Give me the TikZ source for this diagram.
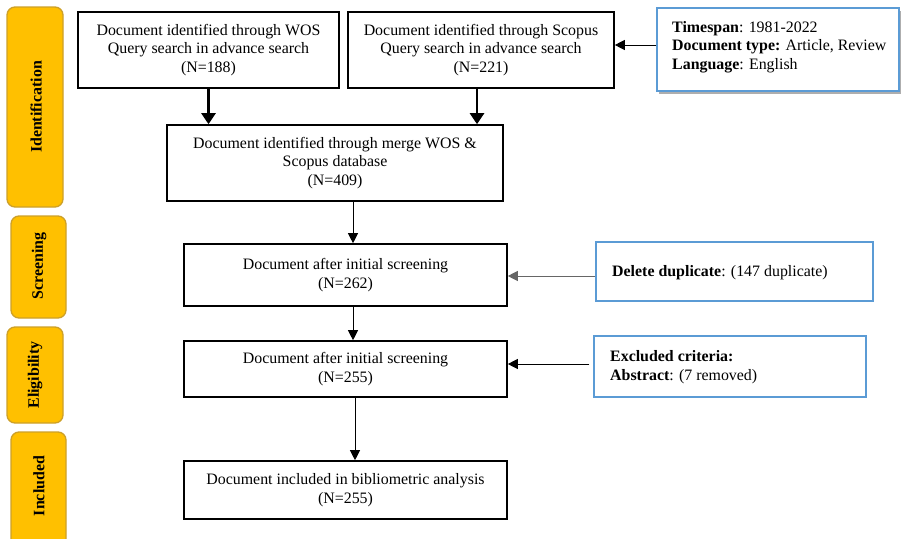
\documentclass[tikz,border=0pt]{standalone}
\usepackage{fontspec}
\setmainfont{Liberation Serif}
\usetikzlibrary{arrows.meta,shadows}
\definecolor{phase}{RGB}{255,192,0}
\definecolor{phaseline}{RGB}{205,160,40}
\definecolor{infoblue}{RGB}{91,155,213}
\tikzset{
  txt/.style={font=\fontsize{15.9}{18.5}\selectfont},
  phasebox/.style={draw=phaseline, line width=1.3pt, fill=phase, rounded corners=8pt},
  phaselabel/.style={txt, font=\fontsize{15.9}{18.5}\selectfont\bfseries, rotate=90},
  docbox/.style={txt, draw=black, line width=1.6pt, align=center, inner sep=0pt},
  infobox/.style={draw=infoblue, line width=1.4pt, fill=white, inner sep=0pt},
  infotext/.style={txt, align=left, anchor=west, inner sep=0pt},
  thinarrow/.style={line width=0.9pt, -{Triangle[length=10pt,width=10pt]}},
  thickarrow/.style={line width=2.6pt, -{Triangle[length=11pt,width=14pt]}}
}
\begin{document}
\begin{tikzpicture}[x=1pt,y=-1pt]
\useasboundingbox[fill=white] (0,0) rectangle (904,538);

% phase boxes
\draw[phasebox] (7,7) rectangle (63,207);
\draw[phasebox] (11,216) rectangle (66,318);
\draw[phasebox] (7,327) rectangle (63,423);
\draw[phasebox] (11,432) rectangle (66,560);
\node[phaselabel] (pid) at (36,107) {Identification};
\node[phaselabel] (psc) at (39,266) {Screening};
\node[phaselabel] (pel) at (35,375) {Eligibility};
\node[phaselabel] (pin) at (39,486) {Included};

% document boxes
\node[docbox, minimum width=261pt, minimum height=76pt] (wos) at (208.5,50)
  {Document identified through WOS\\Query search in advance search\\(N=188)};
\node[docbox, minimum width=266pt, minimum height=76pt] (sco) at (481,50)
  {Document identified through Scopus\\Query search in advance search\\(N=221)};
\node[docbox, minimum width=336pt, minimum height=76pt] (mer) at (335,163)
  {Document identified through merge WOS \&\\Scopus database\\(N=409)};
\node[docbox, minimum width=323pt, minimum height=62pt] (scr) at (345.5,275)
  {Document after initial screening\\(N=262)};
\node[docbox, minimum width=323pt, minimum height=56pt] (eli) at (345.5,369)
  {Document after initial screening\\(N=255)};
\node[docbox, minimum width=323pt, minimum height=58pt] (inc) at (345.5,490)
  {Document included in bibliometric analysis\\(N=255)};

% info boxes
\node[infobox, drop shadow={shadow xshift=2pt, shadow yshift=-3pt, fill=black!45, opacity=0.7},
      minimum width=242pt, minimum height=83pt] (ts) at (778,49.5) {};
\node[infotext] (tst) at (672,47)
  {\textbf{Timespan}: 1981-2022\\\textbf{Document type:} Article, Review\\\textbf{Language}: English};
\node[infobox, minimum width=277pt, minimum height=59pt] (dup) at (734.5,271.5) {};
\node[infotext] (dupt) at (612,273) {\textbf{Delete duplicate}: (147 duplicate)};
\node[infobox, minimum width=272pt, minimum height=61pt] (exc) at (730,366.5) {};
\node[infotext] (exct) at (610,367) {\textbf{Excluded criteria:}\\\textbf{Abstract}: (7 removed)};

% connectors
\draw[thickarrow] (wos.south) -- (wos.south |- mer.north);
\draw[thickarrow] ([xshift=-4pt]sco.south) -- ([xshift=-4pt]sco.south |- mer.north);
\draw[thinarrow] ([xshift=7.5pt]scr.north |- mer.south) -- ([xshift=7.5pt]scr.north);
\draw[thinarrow] ([xshift=7.5pt]scr.south) -- ([xshift=7.5pt]eli.north);
\draw[thinarrow] ([xshift=9.5pt]eli.south) -- ([xshift=9.5pt]inc.north);
\draw[thinarrow] ([yshift=4.5pt]ts.west) -- ([yshift=4.5pt]ts.west -| sco.east);
\draw[thinarrow, draw=black!60] ([yshift=-4.5pt]dup.west) -- ([yshift=-4.5pt]dup.west -| scr.east);
\draw[thinarrow] ([yshift=2.5pt,xshift=-4pt]exc.west) -- ([yshift=2.5pt]exc.west -| eli.east);
\end{tikzpicture}
\end{document}
